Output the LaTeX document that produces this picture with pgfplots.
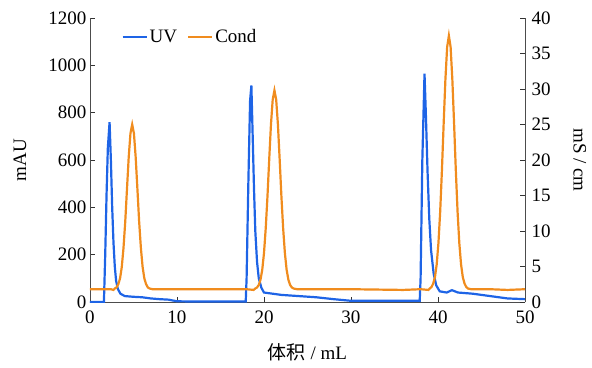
\documentclass[border=0pt]{standalone}
\usepackage{pgfplots}
\pgfplotsset{compat=1.18}
\usepackage{fontspec}
\setmainfont{Liberation Serif}
\newfontfamily\cjk{Noto Sans CJK SC}
\definecolor{uvblue}{RGB}{30,100,230}
\definecolor{condorange}{RGB}{240,140,30}
\pgfplotsset{
  common/.style={
    width=435pt, height=284pt, scale only axis,
    xmin=0, xmax=50,
    tick align=inside,
    major tick length=5pt,
    tick style={black!80, line width=0.8pt},
    axis line style={black!70, line width=0.9pt},
    font=\fontsize{19}{22}\selectfont,
    ticklabel style={font=\fontsize{19}{22}\selectfont},
    /pgf/number format/assume math mode=true,
    /pgf/number format/1000 sep={},
  }
}
\begin{document}
\begin{tikzpicture}
\begin{axis}[common,
  ymin=0, ymax=1200,
  ytick={0,200,400,600,800,1000,1200},
  xtick={0,10,20,30,40,50},
  xticklabel style={yshift=-5pt},
  axis y line*=left, axis x line*=bottom,
  ylabel={mAU},
  ylabel style={at={(axis description cs:-0.161,0.5)}, anchor=center},
  xlabel={{\cjk 体积} / mL},
  xlabel style={at={(axis description cs:0.5,-0.176)}, anchor=center},
  legend style={draw=none, fill=none, at={(0.065,0.975)}, anchor=north west,
    legend columns=2, font=\fontsize{19}{22}\selectfont,
    /tikz/every even column/.append style={column sep=8pt}},
  legend image code/.code={\draw[#1] (0pt,0pt) -- (24pt,0pt);},
]
\addplot[uvblue, line width=2.2pt] coordinates {
(0,0) (1.6,0) (1.75,200) (1.9,450) (2.05,650) (2.25,760) (2.4,600) (2.55,400)
(2.7,250) (2.85,150) (3.0,90) (3.2,55) (3.5,35) (4,25) (5,22) (6,20) (7,15)
(8,12) (9,10) (10,3) (12,2) (17.9,2) (18.0,100) (18.2,500) (18.4,850) (18.55,915)
(18.7,700) (18.85,480) (19.0,300) (19.2,170) (19.4,100) (19.7,60) (20,40) (21,35)
(22,30) (24,25) (26,20) (28,12) (30,5) (35,5) (37.9,5) (38.0,100) (38.2,600)
(38.45,965) (38.6,800) (38.8,550) (39,350) (39.2,220) (39.5,120) (39.8,70)
(40.2,45) (41,40) (41.6,50) (42.3,40) (44,35) (46,25) (48,15) (50,12)
};
\addlegendentry{UV}
\addlegendimage{condorange, line width=2.2pt}
\addlegendentry{Cond}
\end{axis}
\begin{axis}[common,
  ymin=0, ymax=40,
  ytick={0,5,10,15,20,25,30,35,40},
  yticklabel style={xshift=3pt},
  axis y line*=right, axis x line=none,
  ylabel={mS / cm},
  ylabel style={at={(axis description cs:1.126,0.5)}, anchor=center, rotate=180},
]
\addplot[condorange, line width=2.2pt] coordinates {
(0,1.8) (2.4,1.8) (2.7,1.7) (2.85,1.9) (3.05,2.05) (3.25,2.5) (3.45,3.3) (3.65,4.9)
(3.85,7.6) (4.05,11.3) (4.25,15.9) (4.45,20.4) (4.65,23.75) (4.85,25.0)
(5.05,23.75) (5.25,20.4) (5.45,15.9) (5.65,11.3) (5.85,7.6) (6.05,4.9) (6.25,3.3)
(6.45,2.5) (6.65,2.05) (6.85,1.9) (7.2,1.8) (12,1.8) (18,1.8) (18.8,1.7)
(19.0,1.9) (19.2,2.05) (19.4,2.4) (19.6,3.15) (19.8,4.55) (20.0,6.9) (20.2,10.4)
(20.4,14.9) (20.6,20.1) (20.8,25.0) (21.0,28.5) (21.2,29.8) (21.4,28.5) (21.6,25.0)
(21.8,20.1) (22.0,14.9) (22.2,10.4) (22.4,6.9) (22.6,4.55) (22.8,3.15) (23.0,2.4)
(23.2,2.05) (23.4,1.9) (23.8,1.8) (30,1.8) (36,1.7) (38,1.8) (38.9,1.7)
(39.05,1.9) (39.25,2.1) (39.45,2.6) (39.65,3.5) (39.85,5.3) (40.05,8.3) (40.25,12.7)
(40.45,18.5) (40.65,25.1) (40.85,31.3) (41.05,35.9) (41.25,37.5) (41.45,35.9)
(41.65,31.3) (41.85,25.1) (42.05,18.5) (42.25,12.7) (42.45,8.3) (42.65,5.3)
(42.85,3.5) (43.05,2.6) (43.25,2.1) (43.45,1.9) (43.8,1.8) (46,1.8) (48,1.7) (50,1.8)
};
\end{axis}
\pgfresetboundingbox
\useasboundingbox (-90pt,-65pt) rectangle (502pt,302pt);
\end{tikzpicture}
\end{document}
